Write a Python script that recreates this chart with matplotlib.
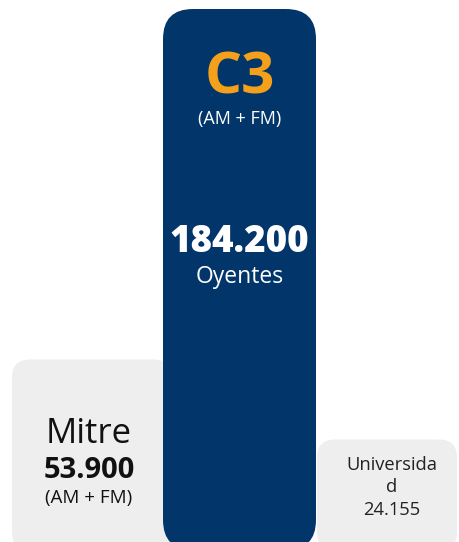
import textwrap

import matplotlib

matplotlib.use("Agg")
import matplotlib.pyplot as plt
from matplotlib.patches import FancyBboxPatch

# data
stations = ["Mitre", "C3", "Universidad"]
listeners = [53900, 184200, 24155]
bands = ["(AM + FM)", "(AM + FM)", ""]

# layout (pixels on a 460x542 canvas)
W, H = 460, 542
x_left = [12, 163, 317]
widths = [160, 153, 140]
radius = [18, 30, 18]
px_per_unit = 0.00269
base = -16900
y_bottom = -13940

NAVY = "#02366a"
ORANGE = "#f5a01a"
GREY = "#eeeeee"

plt.rcParams["font.family"] = ["Open Sans", "DejaVu Sans"]

fig = plt.figure(figsize=(W / 100, H / 100), dpi=100)
ax = fig.add_axes([0, 0, 1, 1])
ax.set_xlim(0, W)
ax.set_ylim(y_bottom, y_bottom + H / px_per_unit)
ax.axis("off")

aspect = 1 / px_per_unit
colors = [GREY, NAVY, GREY]
for i in [0, 2, 1]:  # C3 drawn last so it overlaps Mitre
    box = FancyBboxPatch((x_left[i], base), widths[i], listeners[i] - base,
                         boxstyle=f"round,pad=0,rounding_size={radius[i]}",
                         mutation_aspect=aspect, fc=colors[i], ec="none", zorder=2)
    ax.add_patch(box)


def fmt(v):
    return f"{v:,}".replace(",", ".")


def label(x, top, dy_px, s, **kw):
    # place text baseline dy_px pixels below the bar top
    ax.annotate(s, xy=(x, top), xytext=(0, -dy_px * 0.72), textcoords="offset points",
                ha="center", va="baseline", zorder=3, **kw)


# C3 (centre)
xc = x_left[1] + widths[1] / 2
top = listeners[1]
label(xc, top, 84, stations[1], fontsize=42, fontweight="bold", color=ORANGE)
label(xc, top, 115, bands[1], fontsize=13, color="white")
label(xc, top, 243, fmt(listeners[1]), fontsize=26.5, fontweight="heavy", color="white")
label(xc, top, 274, "Oyentes", fontsize=16.5, color="white")

# Mitre (left)
xc = 89
top = listeners[0]
label(xc, top, 83, stations[0], fontsize=25, color="#111111")
label(xc, top, 118, fmt(listeners[0]), fontsize=21, fontweight="bold", color="#111111")
label(xc, top, 143, bands[0], fontsize=13.5, color="#111111")

# Universidad (right)
xc = 392
top = listeners[2]
lines = textwrap.wrap(stations[2], 10) + [fmt(listeners[2])]
for j, s in enumerate(lines):
    label(xc, top, 30 + 22.5 * j, s, fontsize=13.2, color="#222222")

fig.savefig("out.png", dpi=100)
